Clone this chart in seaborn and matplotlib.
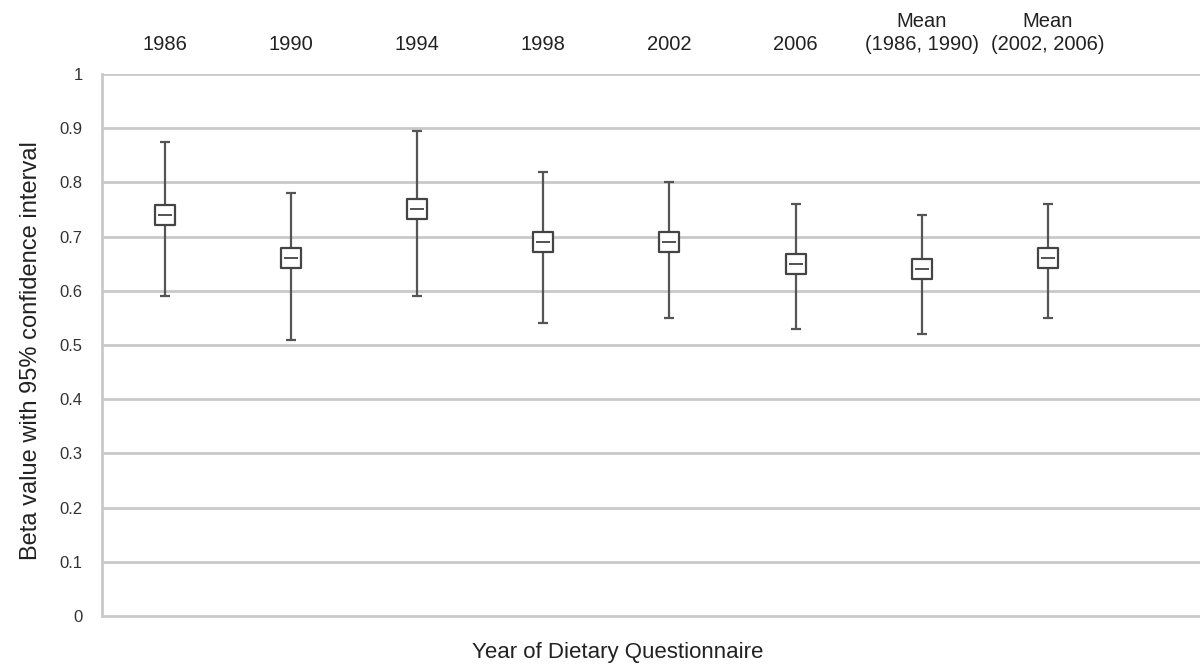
import matplotlib
matplotlib.use("Agg")
import matplotlib.pyplot as plt
import seaborn as sns
import pandas as pd
import numpy as np

categories = ["1986", "1990", "1994", "1998", "2002", "2006",
              "Mean\n(1986, 1990)", "Mean\n(2002, 2006)"]
beta = [0.74, 0.66, 0.75, 0.69, 0.69, 0.65, 0.64, 0.66]
ci_low = [0.59, 0.51, 0.59, 0.54, 0.55, 0.53, 0.52, 0.55]
ci_high = [0.875, 0.78, 0.895, 0.82, 0.80, 0.76, 0.74, 0.76]
y_ticks = [0, 0.1, 0.2, 0.3, 0.4, 0.5, 0.6, 0.7, 0.8, 0.9, 1]
y_tick_labels = ["0", "0.1", "0.2", "0.3", "0.4", "0.5", "0.6", "0.7", "0.8", "0.9", "1"]

sns.set_style("white")
plt.rcParams["font.family"] = ["Liberation Sans", "DejaVu Sans"]

df = pd.DataFrame({"cat": categories, "beta": beta, "lo": ci_low, "hi": ci_high})

fig = plt.figure(figsize=(12, 6.66), dpi=100)
ax = fig.add_axes([0.085, 0.075, 0.93, 0.814])

grid_c = "#c9c9c9"
for yv in y_ticks[1:]:
    ax.axhline(yv, color=grid_c, lw=2, zorder=0)

xpos = np.arange(len(categories))
ax.errorbar(xpos, df["beta"], yerr=[df["beta"] - df["lo"], df["hi"] - df["beta"]],
            fmt="none", ecolor="#555555", elinewidth=1.6, capsize=3.5, capthick=1.6, zorder=2)

sns.scatterplot(data=df, x="cat", y="beta", marker="s", s=190, facecolor="white",
                edgecolor="#444444", linewidth=1.6, ax=ax, zorder=3, legend=False)
sns.scatterplot(data=df, x="cat", y="beta", marker="_", s=100, color="#444444",
                linewidth=1.3, ax=ax, zorder=4, legend=False)

ax.set_xlim(-0.5, 8.35)
ax.set_ylim(0, 1)
ax.set_yticks(y_ticks)
ax.set_yticklabels(y_tick_labels, fontsize=12, color="#333333")
ax.tick_params(axis="y", length=0, pad=14)

# bottom: small tick marks at half-category spacing, no labels
ax.set_xticks(np.arange(-0.5, 8.5, 0.5)[1:])
ax.set_xticklabels([])
ax.tick_params(axis="x", direction="in", length=3, color="#bbbbbb", width=1)

# top: category labels
sec = ax.secondary_xaxis("top")
sec.set_xticks(xpos)
sec.set_xticklabels(categories, fontsize=14.5, color="#222222", linespacing=1.3)
sec.tick_params(length=0, pad=14)
sec.spines["top"].set_visible(False)

for s in ["top", "right"]:
    ax.spines[s].set_visible(False)
ax.spines["left"].set_color(grid_c)
ax.spines["left"].set_linewidth(2)
ax.spines["bottom"].set_color(grid_c)
ax.spines["bottom"].set_linewidth(2)

ax.set_ylabel("Beta value with 95% confidence interval", fontsize=17, color="#222222")
ax.yaxis.set_label_coords(-0.054, 0.49)
ax.set_xlabel("Year of Dietary Questionnaire", fontsize=16, color="#222222")
ax.xaxis.set_label_coords(0.462, -0.048)

fig.savefig("out.png", dpi=100)
